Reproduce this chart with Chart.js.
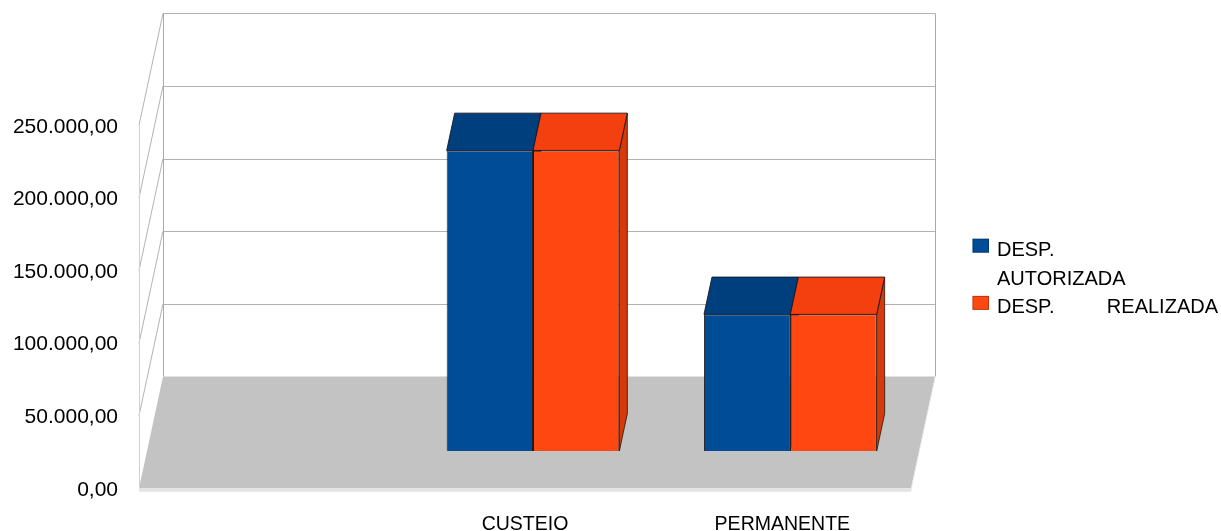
<!DOCTYPE html>
<html lang="pt-BR">
<head>
    <meta charset="UTF-8">
    <title>Despesas</title>
    <script src="https://cdn.jsdelivr.net/npm/chart.js"></script>
    <style>
        html, body { margin: 0; padding: 0; background: #fff; }
        canvas { display: block; }
    </style>
</head>
<body>
    <canvas id="despesasChart" width="1221" height="531"></canvas>

    <script>
        // Dados
        const categorias = ['', 'CUSTEIO', 'PERMANENTE'];
        const despAutorizada = [null, 207000, 94100];
        const despRealizada = [null, 207000, 94100];
        const yTicks = [0, 50000, 100000, 150000, 200000, 250000];
        const serieLabels = ['DESP. AUTORIZADA', 'DESP. REALIZADA'];

        // one depth slice of the 3D box (bars take the middle slice)
        const DX = 8, DY = 37.3;
        const GRID = '#b3b3b3';

        const faces = [
            { front: '#004c97', top: '#003f7e', side: '#003a72' },
            { front: '#ff4712', top: '#f4400e', side: '#d63a0c' }
        ];

        function fmtBR(v) {
            const s = Math.round(v).toString().replace(/\B(?=(\d{3})+(?!\d))/g, '.');
            return s + ',00';
        }

        function poly(ctx, pts, fill, stroke) {
            ctx.beginPath();
            ctx.moveTo(pts[0][0], pts[0][1]);
            for (let i = 1; i < pts.length; i++) ctx.lineTo(pts[i][0], pts[i][1]);
            ctx.closePath();
            if (fill) { ctx.fillStyle = fill; ctx.fill(); }
            if (stroke) { ctx.strokeStyle = stroke; ctx.lineWidth = 1; ctx.stroke(); }
        }

        function line(ctx, x1, y1, x2, y2, color) {
            ctx.beginPath();
            ctx.moveTo(x1, y1);
            ctx.lineTo(x2, y2);
            ctx.strokeStyle = color;
            ctx.lineWidth = 1;
            ctx.stroke();
        }

        // walls, floor and the hidden-ish side faces
        const box3d = {
            id: 'box3d',
            beforeDatasetsDraw(chart) {
                const { ctx, chartArea: a, scales: { y } } = chart;
                const yb = v => y.getPixelForValue(v) - 2 * DY;
                const yf = v => y.getPixelForValue(v) + DY;
                const xb0 = a.left + 2 * DX, xb1 = a.right + 2 * DX;
                const xf0 = a.left - DX, xf1 = a.right - DX;
                const top = yTicks[yTicks.length - 1];

                ctx.save();
                // floor
                poly(ctx, [[xf0, yf(0)], [xf1, yf(0)], [xb1, yb(0)], [xb0, yb(0)]], '#c3c3c3');
                poly(ctx, [[xf0, yf(0)], [xf1, yf(0)], [xf1, yf(0) + 3.5], [xf0, yf(0) + 3.5]], '#e3e3e3');
                poly(ctx, [[xf1, yf(0)], [xb1, yb(0)], [xb1, yb(0) + 3.5], [xf1, yf(0) + 3.5]], '#e3e3e3');

                // back wall + left wall grid
                yTicks.forEach(v => {
                    if (v > 0) {
                        line(ctx, xb0, Math.round(yb(v)) + 0.5, xb1, Math.round(yb(v)) + 0.5, GRID);
                        line(ctx, xb0, yb(v), xf0, yf(v), GRID);
                    }
                });
                line(ctx, Math.round(xb0) + 0.5, yb(top), Math.round(xb0) + 0.5, yb(0), '#aaaaaa');
                line(ctx, Math.round(xb1) + 0.5, yb(top), Math.round(xb1) + 0.5, yb(0), '#aaaaaa');
                line(ctx, Math.round(xf0) + 0.5, yf(top), Math.round(xf0) + 0.5, yf(0), '#d0d0d0');

                // right side faces
                chart.data.datasets.forEach((ds, i) => {
                    chart.getDatasetMeta(i).data.forEach((bar, j) => {
                        if (ds.data[j] == null) return;
                        const r = bar.x + bar.width / 2;
                        poly(ctx, [[r, bar.y], [r + DX, bar.y - DY], [r + DX, bar.base - DY], [r, bar.base]],
                            faces[i].side, 'rgba(40,20,10,0.8)');
                    });
                });
                ctx.restore();
            },
            afterDatasetsDraw(chart) {
                const { ctx } = chart;
                ctx.save();
                chart.data.datasets.forEach((ds, i) => {
                    chart.getDatasetMeta(i).data.forEach((bar, j) => {
                        if (ds.data[j] == null) return;
                        const l = bar.x - bar.width / 2, r = bar.x + bar.width / 2;
                        poly(ctx, [[l, bar.y], [r, bar.y], [r + DX, bar.y - DY], [l + DX, bar.y - DY]],
                            faces[i].top, 'rgba(20,20,30,0.85)');
                    });
                });
                ctx.restore();
            }
        };

        // legend on the right, words justified over a fixed column
        const legendaLateral = {
            id: 'legendaLateral',
            afterDraw(chart) {
                const { ctx } = chart;
                const xBox = 972.5, xText = 997, colWidth = 221, wrapWidth = 185, lineH = 28.6;
                let base = 256;
                ctx.save();
                ctx.font = '20px "Liberation Sans", Arial, sans-serif';
                ctx.fillStyle = '#000';
                ctx.textBaseline = 'alphabetic';
                chart.data.datasets.forEach((ds, i) => {
                    ctx.fillStyle = ds.backgroundColor;
                    ctx.fillRect(xBox, base - 17.3, 16.5, 14);
                    ctx.strokeStyle = 'rgba(0,0,0,0.25)';
                    ctx.strokeRect(xBox + 0.5, base - 16.8, 15.5, 13);
                    ctx.fillStyle = '#000';

                    const words = ds.label.split(' ');
                    const lines = [];
                    let cur = [];
                    words.forEach(w => {
                        const test = cur.concat(w).join(' ');
                        if (cur.length && ctx.measureText(test).width > wrapWidth) {
                            lines.push(cur);
                            cur = [w];
                        } else {
                            cur.push(w);
                        }
                    });
                    lines.push(cur);

                    lines.forEach(ws => {
                        if (ws.length > 1) {
                            const total = ws.reduce((s, w) => s + ctx.measureText(w).width, 0);
                            const gap = (colWidth - total) / (ws.length - 1);
                            let x = xText;
                            ws.forEach(w => {
                                ctx.fillText(w, x, base);
                                x += ctx.measureText(w).width + gap;
                            });
                        } else {
                            ctx.fillText(ws[0], xText, base);
                        }
                        base += lineH;
                    });
                });
                ctx.restore();
            }
        };

        const ctx = document.getElementById('despesasChart').getContext('2d');
        const despesasChart = new Chart(ctx, {
            type: 'bar',
            data: {
                labels: categorias,
                datasets: [{
                    label: serieLabels[0],
                    data: despAutorizada,
                    backgroundColor: faces[0].front,
                    borderColor: 'rgba(15,15,25,0.85)',
                    borderWidth: 1
                }, {
                    label: serieLabels[1],
                    data: despRealizada,
                    backgroundColor: faces[1].front,
                    borderColor: 'rgba(40,15,5,0.85)',
                    borderWidth: 1
                }]
            },
            options: {
                responsive: false,
                animation: false,
                layout: { padding: { top: 88, right: 302, left: 0, bottom: 0 } },
                datasets: { bar: { categoryPercentage: 0.671, barPercentage: 1 } },
                plugins: {
                    legend: { display: false },
                    tooltip: { enabled: false }
                },
                scales: {
                    x: {
                        grid: { display: false },
                        border: { display: false },
                        ticks: {
                            padding: 54,
                            labelOffset: -DX,
                            maxRotation: 0,
                            autoSkip: false,
                            color: '#000',
                            font: { family: '"Liberation Sans", Arial, sans-serif', size: 19.5 }
                        },
                        afterFit(scale) { scale.height = 80; }
                    },
                    y: {
                        min: 0,
                        max: yTicks[yTicks.length - 1],
                        grid: { display: false },
                        border: { display: false },
                        afterBuildTicks(scale) { scale.ticks = yTicks.map(v => ({ value: v })); },
                        ticks: {
                            padding: 21,
                            labelOffset: DY + 1.5,
                            color: '#000',
                            font: { family: '"Liberation Sans", Arial, sans-serif', size: 21 },
                            callback: v => fmtBR(v)
                        },
                        afterFit(scale) { scale.width = 147; }
                    }
                }
            },
            plugins: [box3d, legendaLateral]
        });
    </script>
</body>
</html>
